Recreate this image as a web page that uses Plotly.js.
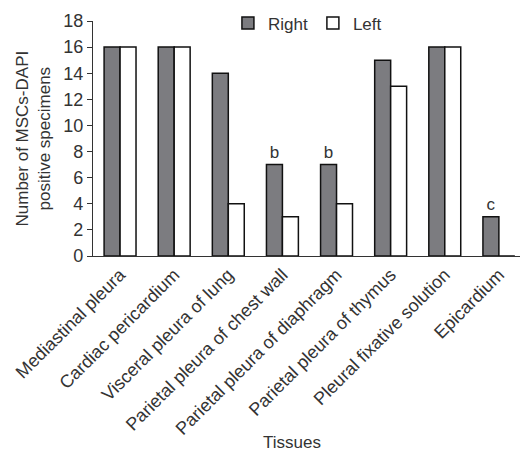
<!DOCTYPE html>
<html><head><meta charset="utf-8">
<script src="https://cdn.plot.ly/plotly-3.0.1.min.js"></script>
<style>html,body{margin:0;padding:0;background:#fff}#chart{width:520px;height:457px}</style>
</head><body><div id="chart"></div>
<script>
const categories = ["Mediastinal pleura","Cardiac pericardium","Visceral pleura of lung","Parietal pleura of chest wall","Parietal pleura of diaphragm","Parietal pleura of thymus","Pleural fixative solution","Epicardium"];
const rightValues = [16,16,14,7,7,15,16,3];
const leftValues = [16,16,4,3,4,13,16,0];
const rightMarks = ["","","","b","b","","","c"];
const yTicks = [0,2,4,6,8,10,12,14,16,18];
const yTitleLines = ["Number of MSCs-DAPI","positive specimens"];

const fam = "Liberation Sans, Arial, sans-serif";
const font = {family:fam, size:18, color:"#333"};
const f17 = {family:fam, size:17, color:"#333"};
const traces = [
  {type:"bar", name:"Right", x:categories, y:rightValues, text:rightMarks, textposition:"outside",
   textfont:{family:fam,size:17,color:"#333"}, cliponaxis:false,
   marker:{color:"#7c7c80", line:{color:"#111", width:1.5}}, hoverinfo:"y"},
  {type:"bar", name:"Left", x:categories, y:leftValues,
   marker:{color:"#ffffff", line:{color:"#111", width:1.5}}, hoverinfo:"y"}
];
const layout = {
  width:520, height:457, margin:{l:93,r:0,t:21,b:201},
  paper_bgcolor:"#fff", plot_bgcolor:"#fff", font:font,
  barmode:"group", bargap:0.41, bargroupgap:0, showlegend:true,
  legend:{orientation:"h", x:0.316, y:0.99, xanchor:"left", yanchor:"middle", font:f17, itemwidth:30, traceorder:"normal", bgcolor:"rgba(0,0,0,0)"},
  xaxis:{range:[-0.5,7.39], showline:true, linecolor:"#333", linewidth:1.2, ticks:"", tickangle:-45, tickfont:font, showgrid:false, zeroline:false, automargin:false},
  yaxis:{range:[0,18], tickvals:yTicks, showline:true, linecolor:"#333", linewidth:1.2, ticks:"outside", ticklen:5, tickcolor:"#333", tickfont:font, showgrid:false, zeroline:false, automargin:false},
  annotations:[
    {text:"Tissues", xref:"paper", yref:"paper", x:(292-93)/427, y:-0.795, xanchor:"center", yanchor:"middle", showarrow:false, font:f17},
    {text:yTitleLines[0], xref:"paper", yref:"paper", x:(22-93)/427, y:0.5, xanchor:"center", yanchor:"middle", textangle:-90, showarrow:false, font:f17},
    {text:yTitleLines[1], xref:"paper", yref:"paper", x:(44-93)/427, y:0.5, xanchor:"center", yanchor:"middle", textangle:-90, showarrow:false, font:f17}
  ]
};
Plotly.newPlot("chart", traces, layout, {displayModeBar:false, staticPlot:true});
</script></body></html>
